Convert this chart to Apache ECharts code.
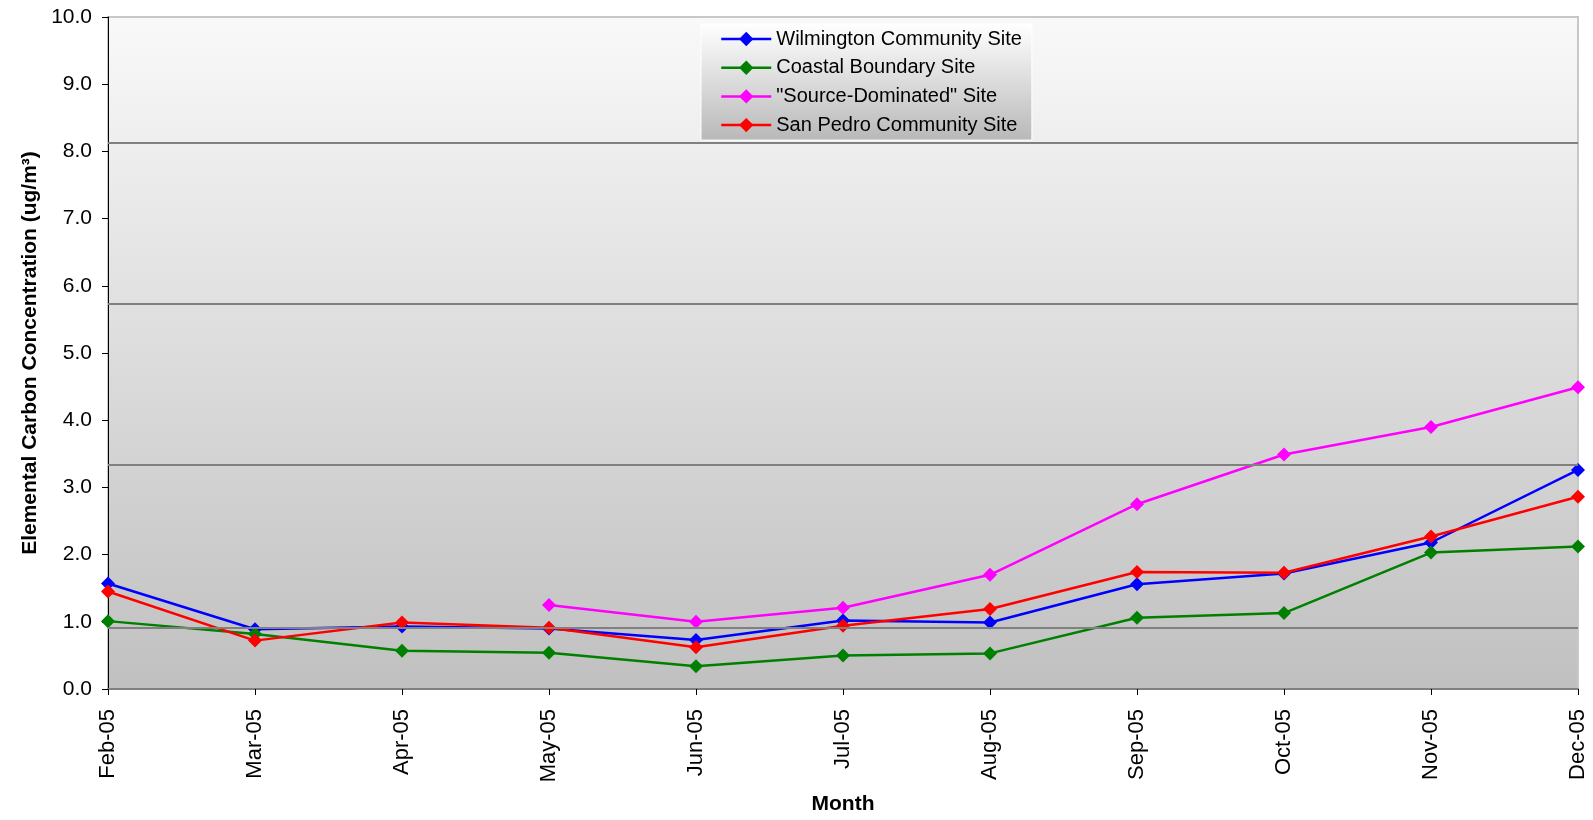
<!DOCTYPE html>
<html>
<head>
<meta charset="utf-8">
<script src="https://cdn.jsdelivr.net/npm/echarts@6/dist/echarts.min.js"></script>
<style>
html,body{margin:0;padding:0;background:#fff;}
#chart{width:1593px;height:820px;}
</style>
</head>
<body>
<div id="chart"></div>
<script>
var categories = ['Feb-05','Mar-05','Apr-05','May-05','Jun-05','Jul-05','Aug-05','Sep-05','Oct-05','Nov-05','Dec-05'];
var wilmington = [1.57, 0.89, 0.93, 0.90, 0.73, 1.02, 0.99, 1.56, 1.72, 2.18, 3.26];
var coastal    = [1.01, 0.82, 0.57, 0.54, 0.34, 0.50, 0.53, 1.06, 1.13, 2.03, 2.12];
var sourceDom  = [null, null, null, 1.25, 1.00, 1.21, 1.70, 2.75, 3.49, 3.90, 4.49];
var sanPedro   = [1.45, 0.72, 0.99, 0.91, 0.62, 0.94, 1.19, 1.74, 1.73, 2.27, 2.86];
var seriesNames = ['Wilmington Community Site','Coastal Boundary Site','"Source-Dominated" Site','San Pedro Community Site'];
var bandLines = [8.13, 5.73, 3.33, 0.91];

var FONT = 'Liberation Sans, Arial, sans-serif';
var chart = echarts.init(document.getElementById('chart'));

function mkSeries(name, data, color, extra) {
  var s = {
    name: name, type: 'line', data: data,
    symbol: 'diamond', symbolSize: 14,
    itemStyle: { color: color },
    lineStyle: { color: color, width: 2.5 },
    connectNulls: false,
    animation: false
  };
  if (extra) for (var k in extra) s[k] = extra[k];
  return s;
}

chart.setOption({
  animation: false,
  grid: {
    left: 108, right: 15, top: 17, bottom: 131,
    show: true,
    borderColor: '#c8c8c8', borderWidth: 2,
    backgroundColor: {
      type: 'linear', x: 0, y: 0, x2: 0, y2: 1,
      colorStops: [{ offset: 0, color: '#f9f9f9' }, { offset: 1, color: '#c0c0c0' }]
    }
  },
  legend: {
    orient: 'vertical',
    left: 701, top: 24,
    padding: [5, 10, 5, 19],
    itemWidth: 50, itemHeight: 18, itemGap: 8.7,
    borderColor: '#ffffff', borderWidth: 1,
    backgroundColor: {
      type: 'linear', x: 0, y: 0, x2: 0, y2: 1,
      colorStops: [{ offset: 0, color: '#ffffff' }, { offset: 1, color: '#b8b8b8' }]
    },
    lineStyle: { width: 2.5 },
    textStyle: { fontFamily: FONT, fontSize: 20, lineHeight: 20, color: '#000' },
    data: seriesNames
  },
  xAxis: {
    type: 'category',
    data: categories,
    boundaryGap: false,
    name: 'Month',
    nameLocation: 'middle',
    nameGap: 105,
    nameTextStyle: { fontFamily: FONT, fontSize: 21, fontWeight: 'bold', color: '#000' },
    axisLine: { lineStyle: { color: '#808080', width: 2 } },
    axisTick: { show: true, alignWithLabel: true, length: 6, lineStyle: { color: '#000', width: 1 } },
    axisLabel: { rotate: 90, margin: 20, fontFamily: FONT, fontSize: 22, color: '#000', interval: 0 },
    splitLine: { show: false }
  },
  yAxis: {
    type: 'value',
    min: 0, max: 10, interval: 1,
    name: 'Elemental Carbon Concentration (ug/m³)',
    nameLocation: 'middle',
    nameGap: 67,
    nameTextStyle: { fontFamily: FONT, fontSize: 21, fontWeight: 'bold', color: '#000' },
    axisLine: { show: true, lineStyle: { color: '#000', width: 1 } },
    axisTick: { show: true, length: 6, lineStyle: { color: '#000' } },
    axisLabel: { margin: 16, fontFamily: FONT, fontSize: 21, color: '#000',
      formatter: function (v) { return v.toFixed(1); } },
    splitLine: { show: false }
  },
  series: [
    mkSeries(seriesNames[0], wilmington, '#0000ff', {
      markLine: {
        silent: true, symbol: 'none', label: { show: false },
        lineStyle: { color: '#808080', width: 2, type: 'solid' },
        data: bandLines.map(function (v) { return { yAxis: v }; }),
        animation: false
      }
    }),
    mkSeries(seriesNames[1], coastal, '#008000'),
    mkSeries(seriesNames[2], sourceDom, '#ff00ff'),
    mkSeries(seriesNames[3], sanPedro, '#ff0000')
  ]
});
</script>
</body>
</html>
